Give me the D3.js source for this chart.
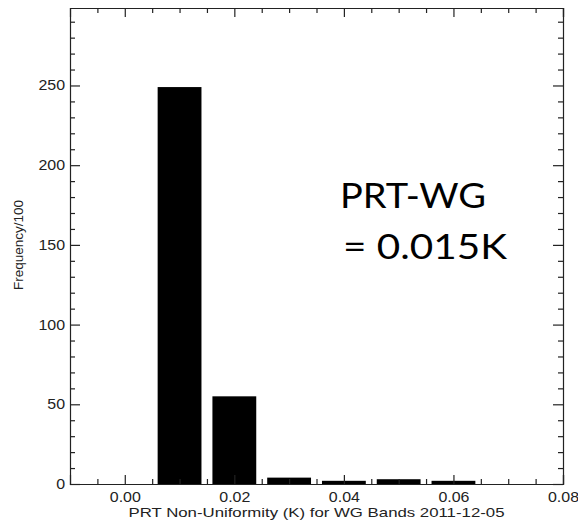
<!DOCTYPE html>
<html>
<head>
<meta charset="utf-8">
<script src="https://cdn.jsdelivr.net/npm/d3@7"></script>
<style>
	html, body { margin: 0; padding: 0; background: #fff; }
	svg { display: block; }
	.axis path, .axis line { stroke: #222; stroke-width: 1.2; }
	.axis text { font-family: 'Liberation Sans', Arial, sans-serif; font-size: 14px; fill: #222; }
</style>
</head>
<body>
<script>
	// DATA
	const binCenters = [0.01, 0.02, 0.03, 0.04, 0.05, 0.06];
	const frequencies = [249, 55, 4, 2, 3, 2];
	const xTickValues = [0.00, 0.02, 0.04, 0.06, 0.08];
	const xMinorValues = [-0.005, 0.005, 0.01, 0.015, 0.025, 0.03, 0.035, 0.045, 0.05, 0.055, 0.065, 0.07, 0.075];
	const yTickValues = [0, 50, 100, 150, 200, 250];
	const yMinorValues = [10, 20, 30, 40, 60, 70, 80, 90, 110, 120, 130, 140, 160, 170, 180, 190, 210, 220, 230, 240, 260, 270, 280, 290];
	const binWidth = 0.008;

	// CONFIGURATION
	const width = 578;
	const height = 521;
	const plotLeft = 70, plotRight = 563, plotTop = 8, plotBottom = 484;
	const stretch = 1.14;

	const xScale = d3.scaleLinear()
		.domain([-0.01, 0.08])
		.range([plotLeft, plotRight]);
	const yScale = d3.scaleLinear()
		.domain([0, 298.6])
		.range([plotBottom, plotTop]);

	const svg = d3.select('body')
		.append('svg')
		.attr('width', width)
		.attr('height', height);

	// BARS
	svg.selectAll('rect.bar')
		.data(binCenters)
		.enter()
		.append('rect')
		.attr('class', 'bar')
		.attr('x', function(d) { return xScale(d - binWidth / 2); })
		.attr('width', function() { return xScale(binWidth) - xScale(0); })
		.attr('y', function(d, i) { return yScale(frequencies[i]); })
		.attr('height', function(d, i) { return yScale(0) - yScale(frequencies[i]); })
		.attr('fill', '#000');

	// AXES (ticks point inward, as IDL draws them)
	function fmtX(v) { return v.toFixed(2); }

	svg.append('g').attr('class', 'axis')
		.attr('transform', `translate(0, ${plotBottom})`)
		.call(d3.axisBottom(xScale).tickValues(xTickValues).tickSize(-9).tickPadding(8).tickFormat(fmtX));
	svg.append('g').attr('class', 'axis')
		.attr('transform', `translate(0, ${plotBottom})`)
		.call(d3.axisBottom(xScale).tickValues(xMinorValues).tickSize(-5).tickFormat(''))
		.select('.domain').remove();
	svg.append('g').attr('class', 'axis')
		.attr('transform', `translate(0, ${plotTop})`)
		.call(d3.axisTop(xScale).tickValues(xTickValues).tickSize(-9).tickFormat(''));
	svg.append('g').attr('class', 'axis')
		.attr('transform', `translate(0, ${plotTop})`)
		.call(d3.axisTop(xScale).tickValues(xMinorValues).tickSize(-5).tickFormat(''))
		.select('.domain').remove();

	svg.append('g').attr('class', 'axis')
		.attr('transform', `translate(${plotLeft}, 0)`)
		.call(d3.axisLeft(yScale).tickValues(yTickValues).tickSize(-10).tickPadding(5));
	svg.append('g').attr('class', 'axis')
		.attr('transform', `translate(${plotLeft}, 0)`)
		.call(d3.axisLeft(yScale).tickValues(yMinorValues).tickSize(-5).tickFormat(''))
		.select('.domain').remove();
	svg.append('g').attr('class', 'axis')
		.attr('transform', `translate(${plotRight}, 0)`)
		.call(d3.axisRight(yScale).tickValues(yTickValues).tickSize(-10).tickFormat(''));
	svg.append('g').attr('class', 'axis')
		.attr('transform', `translate(${plotRight}, 0)`)
		.call(d3.axisRight(yScale).tickValues(yMinorValues).tickSize(-5).tickFormat(''))
		.select('.domain').remove();

	// the original's labels are a bit wide: stretch them horizontally
	svg.selectAll('.axis text')
		.attr('transform', `scale(${stretch}, 1)`)
		.attr('x', function() { return +d3.select(this).attr('x') / stretch; });

	// AXIS TITLES
	svg.append('text')
		.attr('x', (xScale(-0.01) + xScale(0.08)) / 2)
		.attr('y', 517)
		.attr('text-anchor', 'middle')
		.attr('font-family', "'Liberation Sans', Arial, sans-serif")
		.attr('font-size', 13)
		.attr('fill', '#222')
		.attr('textLength', 376)
		.attr('lengthAdjust', 'spacingAndGlyphs')
		.text('PRT Non-Uniformity (K) for WG Bands 2011-12-05');

	svg.append('text')
		.attr('transform', 'translate(23, 245) rotate(-90)')
		.attr('text-anchor', 'middle')
		.attr('font-family', "'Liberation Sans', Arial, sans-serif")
		.attr('font-size', 13)
		.attr('fill', '#222')
		.attr('textLength', 90)
		.attr('lengthAdjust', 'spacingAndGlyphs')
		.text('Frequency/100');

	// ANNOTATION
	svg.append('text')
		.attr('x', 340)
		.attr('y', 208)
		.attr('font-family', 'Lato, sans-serif')
		.attr('font-size', 35)
		.attr('fill', '#000')
		.attr('textLength', 146)
		.attr('lengthAdjust', 'spacingAndGlyphs')
		.text('PRT-WG');
	svg.append('text')
		.attr('x', 343)
		.attr('y', 259)
		.attr('font-family', 'Lato, sans-serif')
		.attr('font-size', 35)
		.attr('fill', '#000')
		.attr('textLength', 164)
		.attr('lengthAdjust', 'spacingAndGlyphs')
		.text('= 0.015K');
</script>
</body>
</html>
